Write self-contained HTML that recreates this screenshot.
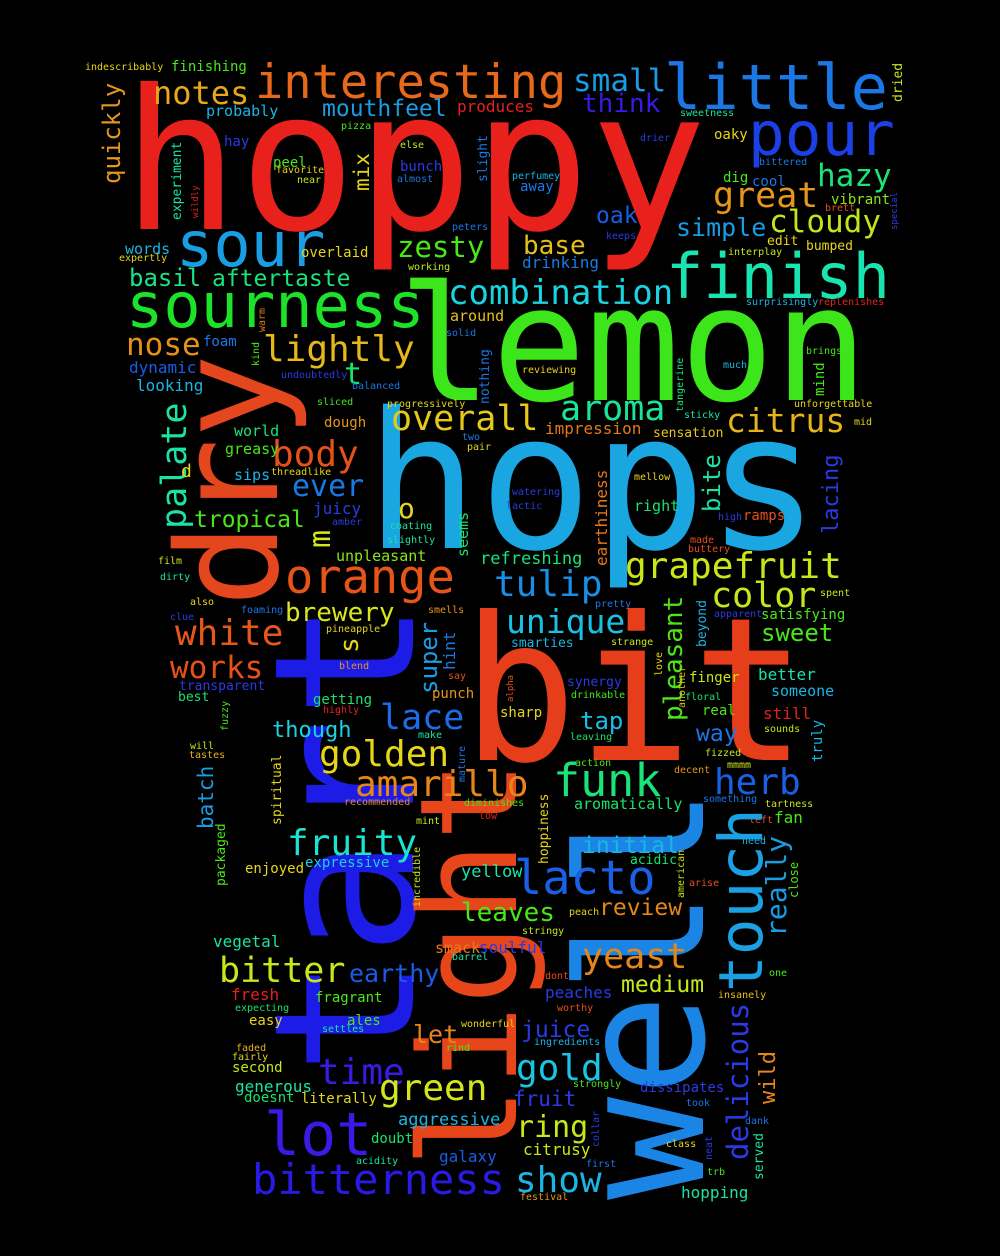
<!DOCTYPE html>
<html><head><meta charset="utf-8"><style>
html,body{margin:0;padding:0;background:#000;}
svg{display:block;}
text{font-family:"DejaVu Sans Mono","Liberation Mono",monospace;}
</style></head>
<body>
<svg id="cloud" width="1000" height="1256" viewBox="0 0 1000 1256" xmlns="http://www.w3.org/2000/svg">
<rect x="0" y="0" width="1000" height="1256" fill="#000"/>
</svg>
<script>
// word, x, y(baseline or start for rotated), font size, color, rotated, optional text length
const words = [
["hoppy",122,229,195,"#e8211d",0,585],
["lemon",398,400,160,"#3de51b",0,470],
["hops",365,548,190,"#1aa6e0",0,455],
["bit",462,760,200,"#e63e1a",0,345],
["well",703,1200,175,"#1a85e5",1,413],
["tart",413,1075,195,"#1c1ce6",1,475],
["light",516,1168,135,"#e6461a",1,408],
["dry",277,607,140,"#e4461d",1,253],
["sour",176,266,62,"#1a9ee3",0],
["sourness",126,327,62,"#1de22a",0],
["finish",666,298,62,"#1ae3b0",0],
["little",664,109,62,"#1a78e6",0],
["pour",748,155,61,"#1a40e6",0],
["interesting",255,98,47,"#e6681a",0],
["small",573,91,31,"#1a9ce3",0],
["notes",153,104,32,"#e6a81a",0],
["think",582,112,26,"#3a1ae6",0],
["mouthfeel",322,116,23,"#1a9ce3",0],
["combination",448,304,34,"#1ad3e0",0],
["zesty",397,257,29,"#4ae61a",0],
["base",523,254,26,"#e6c01a",0],
["great",713,207,35,"#e6961a",0],
["hazy",817,186,31,"#1ae37a",0],
["cloudy",769,232,31,"#c0e61a",0],
["simple",676,236,25,"#1a9ce3",0],
["oak",596,223,23,"#1a5ce6",0],
["aftertaste",212,286,23,"#1ae37a",0],
["basil",129,286,24,"#1ae38a",0],
["nose",126,355,31,"#e6901a",0],
["lightly",263,361,36,"#e6b81a",0],
["t",344,384,30,"#1ae36a",0],
["dynamic",129,373,16,"#1a5ce6",0],
["looking",136,391,16,"#1ab5e3",0],
["foam",203,346,14,"#1a78e6",0],
["overall",391,430,35,"#e6c81a",0],
["aroma",560,420,35,"#1ae39a",0],
["citrus",726,432,33,"#e6b41a",0],
["impression",545,434,16,"#e6781a",0],
["sensation",653,437,13,"#e6c81a",0],
["palate",186,529,35,"#1ae3a5",1],
["body",272,466,36,"#e6501a",0],
["ever",292,496,30,"#1a78e6",0],
["tropical",194,527,23,"#4ae61a",0],
["juicy",313,514,16,"#2a3ae6",0],
["o",398,518,28,"#e6d61a",0],
["m",330,548,30,"#d8e61a",1],
["world",234,436,15,"#1ae37a",0],
["greasy",225,454,15,"#4ae61a",0],
["sips",234,480,15,"#1ab5e3",0],
["threadlike",271,475,10,"#e6d61a",0],
["dough",324,427,14,"#e6961a",0],
["unpleasant",336,561,15,"#8ae61a",0],
["refreshing",480,564,17,"#1ae37a",0],
["grapefruit",625,578,36,"#c8e61a",0],
["tulip",494,596,36,"#1a8de6",0],
["orange",285,593,47,"#e6541a",0],
["color",711,607,35,"#c8e61a",0],
["right",634,511,15,"#1ae36a",0],
["ramps",743,520,14,"#e6501a",0],
["high",718,520,10,"#2a3ae6",0],
["lacing",838,534,22,"#2a3ae6",1],
["bite",720,512,24,"#1ae3a5",1],
["earthiness",607,566,16,"#e6781a",1],
["seems",468,557,15,"#1ae36a",1],
["nothing",489,404,13,"#1a78e6",1],
["mix",369,191,21,"#e6d61a",1],
["quickly",120,184,24,"#e6961a",1],
["experiment",181,220,13,"#1ae3a5",1],
["slight",487,182,13,"#1a78e6",1],
["dried",902,102,13,"#c8e61a",1],
["mind",824,396,14,"#4ae61a",1],
["tangerine",683,412,10,"#1ae37a",1],
["special",897,230,9,"#2a3ae6",1],
["wildly",198,218,9,"#e6211d",1],
["kind",259,366,10,"#4ae61a",1],
["warm",265,332,10,"#e6781a",1],
["words",125,254,15,"#1ab5e3",0],
["expertly",119,261,10,"#e6d61a",0],
["overlaid",301,257,14,"#e6d61a",0],
["drinking",522,268,16,"#1a78e6",0],
["working",408,270,10,"#c8e61a",0],
["around",450,321,15,"#e6c01a",0],
["surprisingly",746,305,10,"#1ab5e3",0],
["replenishes",818,305,10,"#e6211d",0],
["interplay",728,255,10,"#c8e61a",0],
["edit",767,245,13,"#e6d61a",0],
["bumped",806,250,13,"#e6d61a",0],
["vibrant",831,204,14,"#8ae61a",0],
["brett",825,211,10,"#e6501a",0],
["dig",723,182,14,"#4ae61a",0],
["cool",752,186,14,"#1a78e6",0],
["bittered",759,165,10,"#1a78e6",0],
["oaky",714,139,14,"#e6d61a",0],
["drier",640,141,10,"#2a3ae6",0],
["sweetness",680,116,10,"#1ae3a5",0],
["perfumey",512,179,10,"#1ab5e3",0],
["away",520,191,14,"#1a78e6",0],
["peters",452,230,10,"#1a78e6",0],
["keeps",606,239,10,"#2a3ae6",0],
["bunch",400,171,14,"#2a3ae6",0],
["almost",397,182,10,"#1a78e6",0],
["else",400,148,10,"#c8e61a",0],
["pizza",341,129,10,"#4ae61a",0],
["produces",457,112,16,"#e6211d",0],
["probably",206,116,15,"#1ab5e3",0],
["finishing",171,71,14,"#4ae61a",0],
["indescribably",85,70,10,"#e6d61a",0],
["hay",224,146,14,"#2a3ae6",0],
["peel",273,167,14,"#4ae61a",0],
["favorite",276,173,10,"#e6d61a",0],
["near",297,183,10,"#c8e61a",0],
["reviewing",522,373,10,"#e6d61a",0],
["solid",446,336,10,"#1a78e6",0],
["undoubtedly",281,378,10,"#2a3ae6",0],
["balanced",352,389,10,"#1a78e6",0],
["sliced",317,405,10,"#4ae61a",0],
["progressively",387,407,10,"#e6d61a",0],
["two",462,440,10,"#1a78e6",0],
["pair",467,450,10,"#e6d61a",0],
["mellow",634,480,10,"#e6d61a",0],
["watering",512,495,10,"#2a3ae6",0],
["lactic",506,509,10,"#2a3ae6",0],
["coating",390,529,10,"#1ae3a5",0],
["slightly",387,543,10,"#1ae3a5",0],
["amber",332,525,10,"#2a3ae6",0],
["d",181,477,18,"#e6d61a",0],
["film",158,564,10,"#c8e61a",0],
["dirty",160,580,10,"#1ae3a5",0],
["also",190,605,10,"#e6d61a",0],
["made",690,543,10,"#e6501a",0],
["buttery",688,552,10,"#e6501a",0],
["sticky",684,418,10,"#1ae3a5",0],
["much",723,368,10,"#1ab5e3",0],
["brings",806,354,10,"#4ae61a",0],
["unforgettable",794,407,10,"#e6d61a",0],
["mid",854,425,10,"#e6d61a",0],
["spent",820,596,10,"#c8e61a",0],
["pretty",595,607,10,"#1a78e6",0],
["white",175,645,36,"#e6581a",0],
["works",170,678,31,"#e6501a",0],
["brewery",285,621,26,"#d8e61a",0],
["unique",506,633,33,"#1ac0e3",0],
["s",358,653,26,"#e6d61a",1],
["smarties",511,647,13,"#1ab5e3",0],
["sweet",761,641,24,"#4ae61a",0],
["satisfying",761,619,14,"#4ae61a",0],
["apparent",714,617,10,"#2a3ae6",0],
["foaming",241,613,10,"#1a78e6",0],
["clue",170,620,10,"#2a3ae6",0],
["pineapple",326,632,10,"#e6d61a",0],
["smells",428,613,10,"#e6961a",0],
["strange",611,645,10,"#c8e61a",0],
["beyond",706,647,13,"#1ab5e3",1],
["pleasant",682,721,26,"#4ae61a",1],
["super",437,694,24,"#1a9ce3",1],
["hint",455,670,16,"#1a78e6",1],
["blend",339,669,10,"#e6961a",0],
["say",448,679,10,"#e6501a",0],
["transparent",179,690,13,"#2a3ae6",0],
["best",178,701,13,"#1ae36a",0],
["fuzzy",228,731,10,"#4ae61a",1],
["getting",313,704,14,"#1ae36a",0],
["highly",323,713,10,"#e6211d",0],
["punch",432,698,14,"#e6961a",0],
["synergy",567,686,13,"#2a3ae6",0],
["drinkable",571,698,10,"#4ae61a",0],
["love",662,676,10,"#e6d61a",1],
["alpha",513,702,9,"#e6501a",1],
["another",685,708,10,"#e6c01a",1],
["finger",689,682,14,"#c8e61a",0],
["floral",685,700,10,"#1ae36a",0],
["better",758,680,16,"#1ae3a5",0],
["someone",771,696,15,"#1ab5e3",0],
["real",702,715,14,"#4ae61a",0],
["still",763,719,16,"#e6211d",0],
["truly",822,762,14,"#1ab5e3",1],
["sounds",764,732,10,"#c8e61a",0],
["fizzed",705,756,10,"#c8e61a",0],
["mmmm",727,768,10,"#c8e61a",0],
["decent",674,773,10,"#e6961a",0],
["tap",580,729,24,"#1ac0e3",0],
["way",696,741,23,"#1a78e6",0],
["lace",380,729,35,"#1a6de6",0],
["sharp",500,717,14,"#e6d61a",0],
["leaving",570,740,10,"#1ae36a",0],
["make",418,738,10,"#1ae3a5",0],
["though",272,737,22,"#1ad3e0",0],
["golden",319,766,36,"#e6d61a",0],
["mature",465,782,10,"#1a78e6",1],
["action",575,766,10,"#4ae61a",0],
["funk",553,796,45,"#1ae37a",0],
["herb",714,794,36,"#1a60e6",0],
["something",703,802,10,"#1a78e6",0],
["tartness",765,807,10,"#c8e61a",0],
["amarillo",355,796,36,"#e6861a",0],
["recommended",344,805,10,"#e6861a",0],
["diminishes",464,806,10,"#4ae61a",0],
["aromatically",574,809,15,"#1ae36a",0],
["batch",213,829,21,"#1a9ce3",1],
["spiritual",281,825,13,"#e6d61a",1],
["left",749,823,10,"#e6501a",0],
["fan",774,823,16,"#4ae61a",0],
["mint",416,824,10,"#c8e61a",0],
["low",479,819,10,"#e6211d",0],
["hoppiness",548,864,13,"#e6d61a",1],
["packaged",225,886,13,"#4ae61a",1],
["fruity",287,855,36,"#1ae3d0",0],
["initial",582,853,23,"#1ab5e3",0],
["incredible",420,907,10,"#c8e61a",1],
["need",742,844,10,"#1ab5e3",0],
["enjoyed",245,873,14,"#e6d61a",0],
["expressive",305,867,14,"#1ad3e0",0],
["acidic",630,864,13,"#1ae36a",0],
["american",684,898,10,"#c8e61a",1],
["yellow",461,877,17,"#1ae3a5",0],
["lacto",514,894,47,"#1a60e6",0],
["touch",762,992,61,"#1aa0e3",1],
["really",786,937,28,"#1a9ce3",1],
["close",798,898,12,"#4ae61a",1],
["arise",689,886,10,"#e6501a",0],
["leaves",461,921,26,"#4ae61a",0],
["review",599,915,23,"#e6861a",0],
["peach",569,915,10,"#e6d61a",0],
["vegetal",213,947,16,"#1ae3a5",0],
["stringy",522,934,10,"#c8e61a",0],
["smack",435,953,15,"#e6781a",0],
["soulful",479,953,16,"#2a3ae6",0],
["barrel",452,960,10,"#1ae3a5",0],
["bitter",219,982,35,"#c8e61a",0],
["earthy",349,982,25,"#1a5ce6",0],
["yeast",582,968,35,"#e6861a",0],
["dont",545,979,10,"#e6501a",0],
["one",769,976,10,"#4ae61a",0],
["fresh",231,1000,16,"#e6211d",0],
["fragrant",315,1002,14,"#4ae61a",0],
["peaches",545,998,16,"#2a3ae6",0],
["medium",621,992,23,"#c8e61a",0],
["insanely",718,998,10,"#e6c01a",0],
["expecting",235,1011,10,"#1ae36a",0],
["worthy",557,1011,10,"#e6501a",0],
["easy",249,1025,14,"#e6d61a",0],
["ales",347,1025,14,"#4ae61a",0],
["settles",322,1032,10,"#1ae3a5",0],
["wonderful",461,1027,10,"#e6d61a",0],
["let",413,1043,25,"#e6861a",0],
["juice",521,1037,23,"#2a3ae6",0],
["ingredients",534,1045,10,"#1ab5e3",0],
["delicious",748,1160,29,"#2a3ae6",1],
["wild",775,1104,22,"#e6861a",1],
["faded",236,1051,10,"#e6b41a",0],
["fairly",232,1060,10,"#e6d61a",0],
["rind",446,1051,10,"#4ae61a",0],
["second",232,1072,14,"#c8e61a",0],
["time",318,1084,36,"#3a1ae6",0],
["gold",516,1080,36,"#1ac5e3",0],
["strongly",573,1087,10,"#4ae61a",0],
["generous",235,1092,16,"#1ae3a5",0],
["dissipates",640,1092,14,"#2a3ae6",0],
["doesnt",244,1102,14,"#1ae36a",0],
["literally",301,1103,14,"#e6d61a",0],
["green",379,1100,36,"#d3e61a",0],
["fruit",513,1106,21,"#2a3ae6",0],
["took",686,1106,10,"#1a78e6",0],
["dank",745,1124,10,"#1a78e6",0],
["collar",599,1147,10,"#2a3ae6",1],
["aggressive",398,1125,17,"#1ab5e3",0],
["lot",264,1155,60,"#3a1ae6",0],
["ring",516,1137,30,"#c8e61a",0],
["doubt",371,1143,14,"#1ae36a",0],
["class",666,1147,10,"#e6d61a",0],
["neat",712,1160,10,"#2a3ae6",1],
["served",763,1180,13,"#1ae3a5",1],
["citrusy",523,1155,16,"#c8e61a",0],
["galaxy",439,1162,16,"#1a5ce6",0],
["acidity",356,1164,10,"#1ae3a5",0],
["first",586,1167,10,"#1a78e6",0],
["trb",707,1175,10,"#4ae61a",0],
["bitterness",252,1194,42,"#2a1ae6",0],
["show",515,1192,36,"#1ab5e3",0],
["hopping",681,1198,16,"#1ae3a5",0],
["festival",520,1200,10,"#e6961a",0],
["tastes",189,758,10,"#e6b41a",0],
["will",190,749,10,"#c8e61a",0]
];

const svgNS = "http://www.w3.org/2000/svg";
const svg = document.getElementById("cloud");
for (const w of words) {
  const t = document.createElementNS(svgNS, "text");
  t.textContent = w[0];
  t.setAttribute("x", w[1]);
  t.setAttribute("y", w[2]);
  t.setAttribute("font-size", w[3]);
  t.setAttribute("fill", w[4]);
  if (w[5]) t.setAttribute("transform", "rotate(-90 " + w[1] + " " + w[2] + ")");
  if (w[6]) { t.setAttribute("textLength", w[6]); t.setAttribute("lengthAdjust", "spacingAndGlyphs"); }
  
  
  svg.appendChild(t);
}
</script>
</body></html>
